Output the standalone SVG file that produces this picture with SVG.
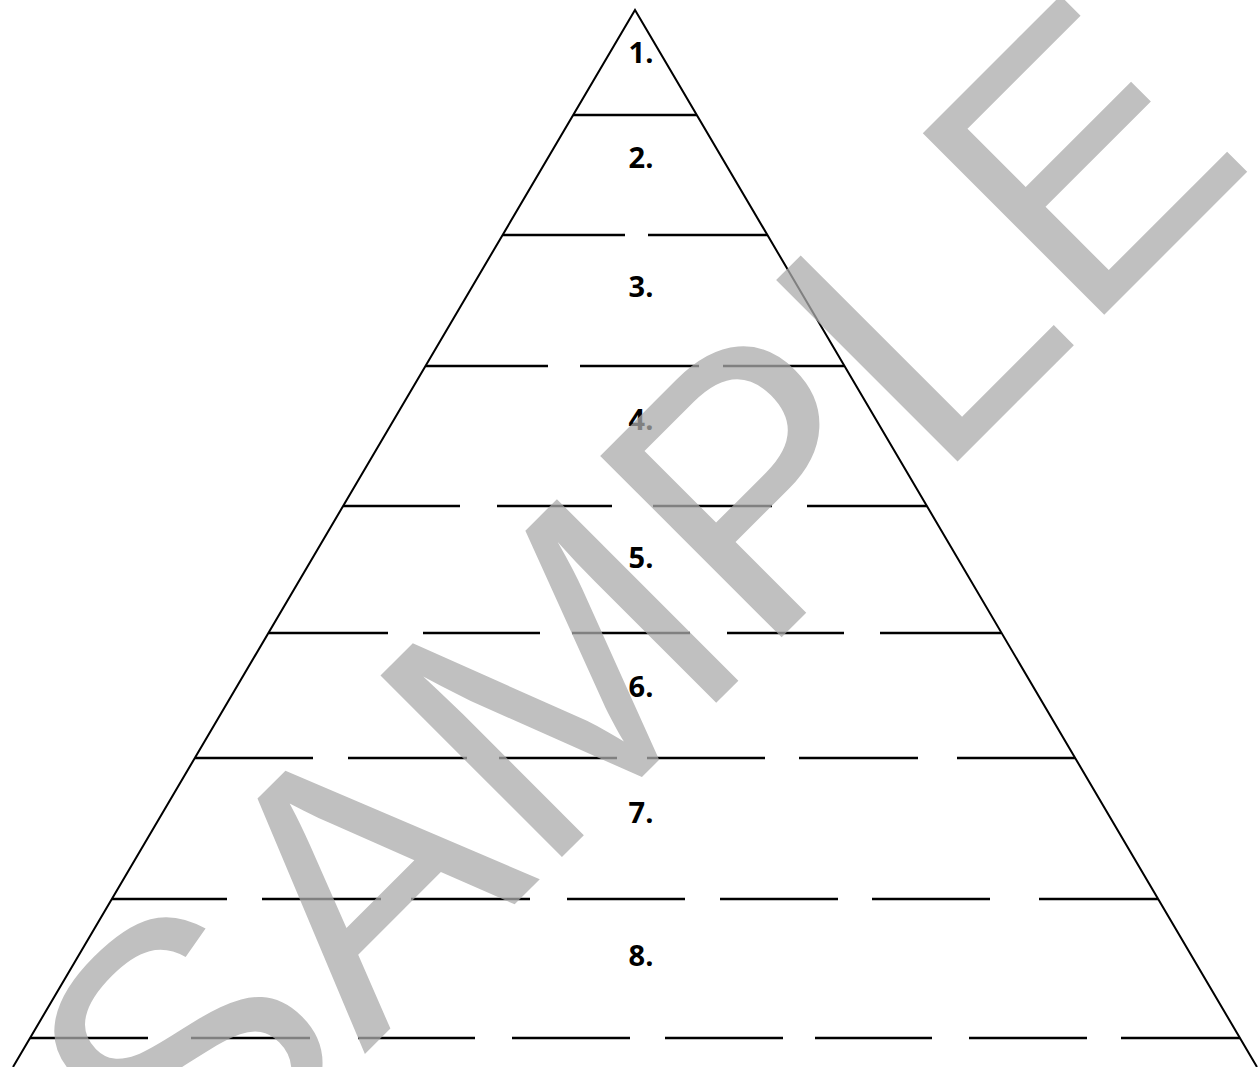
<svg xmlns="http://www.w3.org/2000/svg" width="1259" height="1067" viewBox="0 0 1259 1067">
<style>
.edge{fill:none;stroke:#000;stroke-width:2}
.rule{stroke:#000;stroke-width:2.5;fill:none}
.num{font-family:"Open Sans","Liberation Sans",sans-serif;font-weight:bold;font-size:29px;fill:#000;text-anchor:middle}
.wm{font-family:"Liberation Sans",Arial,sans-serif;font-size:373px;fill:#ababab;opacity:0.75;text-anchor:middle}
</style>
<rect width="1259" height="1067" fill="#fff"/>
<g id="connectors">
<polyline class="edge" points="13,1067 635,10 1257,1067"/>
<path class="rule" d="M573,115H697"/>
<path class="rule" d="M503,235H625M648,235H767"/>
<path class="rule" d="M426,366H548M580,366H699M723,366H844"/>
<path class="rule" d="M343,506H460M497,506H612M653,506H772M807,506H927"/>
<path class="rule" d="M269,633H388M423,633H540M572,633H690M727,633H844M880,633H1001"/>
<path class="rule" d="M195,758H313M348,758H467M499,758H617M647,758H765M799,758H918M957,758H1075"/>
<path class="rule" d="M112,899H227M262,899H381M411,899H530M567,899H685M720,899H838M872,899H990M1039,899H1158"/>
<path class="rule" d="M30,1038H148M191,1038H310M358,1038H475M512,1038H630M665,1038H783M815,1038H932M969,1038H1087M1121,1038H1240"/>
</g>
<g id="level1"><text class="num" x="641" y="63">1.</text></g>
<g id="level2"><text class="num" x="641" y="168">2.</text></g>
<g id="level3"><text class="num" x="641" y="297">3.</text></g>
<g id="level4"><text class="num" x="641" y="430">4.</text></g>
<g id="level5"><text class="num" x="641" y="568">5.</text></g>
<g id="level6"><text class="num" x="641" y="697">6.</text></g>
<g id="level7"><text class="num" x="641" y="823">7.</text></g>
<g id="level8"><text class="num" x="641" y="966">8.</text></g>
<g id="watermark"><text class="wm" transform="translate(723.5,695.5) rotate(-45)">SAMPLE</text></g>
</svg>
